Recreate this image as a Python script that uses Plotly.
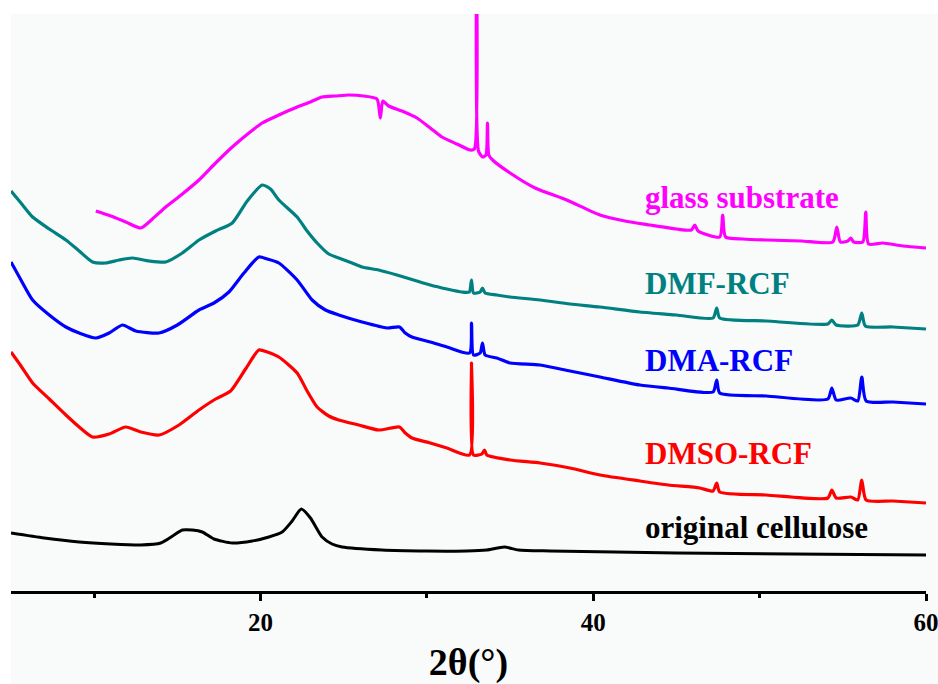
import plotly.graph_objects as go

# ---------------- data (2θ in degrees, intensity in a.u., curves offset) ----------------
glass_x = [10.1, 11.0, 11.9, 12.8, 13.5, 14.3, 15.3, 16.3, 17.3, 18.3, 19.3, 20.1, 21.1, 22.2, 23.0,
           23.7, 24.5, 25.3, 26.2, 27.0, 27.2, 27.35, 27.7, 28.5, 29.4, 30.2, 30.9, 31.8, 32.6, 32.85,
           32.98, 33.1, 33.35, 33.55, 33.64, 33.72, 33.95, 35.0, 36.5, 38.4, 40.4, 41.9, 43.4, 45.0,
           45.9, 46.1, 46.3, 47.6, 47.78, 47.95, 49.0, 50.4, 52.5, 54.4, 54.64, 54.85, 55.3, 55.48,
           55.65, 56.2, 56.38, 56.55, 57.4, 58.6, 60.0]
glass_y = [380, 375, 369, 363, 372, 384, 397, 411, 428, 444, 458, 468, 476, 484, 489,
           494, 495, 496, 495, 492, 473, 490, 485, 480, 473, 463, 454, 447, 441, 442,
           650, 440, 434, 436, 468, 436, 431, 418, 403, 391, 376, 370, 366, 362,
           361, 366, 360, 354, 376, 354, 352, 351, 350, 349, 364, 349, 350, 353,
           349, 349, 379, 347, 348, 345, 343]

dmf_x = [5.0, 5.6, 6.3, 7.3, 8.3, 9.1, 9.9, 10.7, 11.5, 12.3, 13.3, 14.3, 15.3, 16.3, 17.3, 18.3,
         19.2, 20.1, 20.6, 21.1, 22.2, 22.8, 23.4, 24.1, 24.7, 25.5, 26.1, 27.1, 28.2, 29.2, 30.2,
         31.2, 32.1, 32.55, 32.68, 32.8, 33.2, 33.34, 33.5, 34.2, 35.0, 36.8, 38.6, 40.4, 42.8,
         45.0, 47.2, 47.42, 47.6, 50.4, 54.1, 54.34, 54.6, 55.9, 56.14, 56.35, 58.0, 60.0]
dmf_y = [400, 388, 374, 362, 351, 340, 329, 328, 331, 333, 330, 329, 338, 351, 360, 368,
         390, 406, 402, 391, 374, 360, 348, 337, 333, 328, 324, 321, 316, 311, 306,
         302, 299, 299, 311, 298, 299, 303, 298, 296, 294, 291, 287, 284, 279,
         276, 273, 283, 273, 270, 267, 271, 266, 266, 278, 265, 264, 262]

dma_x = [5.0, 5.6, 6.3, 7.3, 8.3, 9.1, 10.1, 10.9, 11.7, 12.5, 13.9, 15.0, 16.3, 17.2, 18.1, 19.0,
         19.9, 20.4, 21.1, 22.2, 23.1, 23.9, 24.7, 26.1, 27.6, 28.35, 28.7, 29.1, 30.2, 31.2,
         32.56, 32.68, 32.8, 33.2, 33.34, 33.5, 34.2, 35.0, 36.8, 38.6, 40.4, 42.8, 44.5, 47.2,
         47.42, 47.6, 50.4, 54.1, 54.34, 54.6, 55.48, 55.9, 56.14, 56.4, 58.0, 60.0]
dma_y = [329, 311, 291, 276, 264, 258, 253, 258, 266, 260, 258, 266, 281, 288, 299, 318,
         334, 332, 328, 311, 291, 281, 276, 269, 263, 264, 258, 254, 249, 244,
         238, 268, 236, 238, 248, 236, 233, 228, 226, 220, 214, 206, 203, 199,
         211, 198, 195, 192, 203, 191, 193, 190, 214, 190, 189, 187]

dmso_x = [5.0, 5.6, 6.3, 7.3, 8.3, 9.1, 9.9, 10.9, 11.9, 12.8, 13.9, 15.1, 16.3, 17.3, 18.2, 19.1,
          19.9, 20.4, 21.1, 22.2, 22.8, 23.4, 24.1, 24.7, 25.9, 27.1, 28.35, 28.7, 29.1, 30.2,
          31.2, 32.56, 32.68, 32.8, 33.3, 33.46, 33.6, 35.0, 36.8, 38.6, 40.4, 42.8, 44.5, 46.4,
          47.2, 47.42, 47.6, 50.4, 54.1, 54.34, 54.6, 55.48, 55.9, 56.14, 56.4, 58.0, 60.0]
dmso_y = [239, 225, 208, 192, 176, 164, 154, 157, 164, 159, 156, 166, 181, 192, 200, 222,
          241, 239, 234, 218, 200, 184, 175, 171, 166, 161, 164, 158, 153, 148,
          143, 136, 228, 136, 137, 141, 136, 131, 128, 123, 116, 110, 106, 103,
          100, 108, 99, 96, 93, 101, 93, 94, 91, 111, 91, 90, 88]

cell_x = [5.0, 7.0, 9.1, 11.0, 12.8, 14.0, 14.8, 15.3, 15.9, 16.5, 17.2, 18.3, 19.5, 20.5, 21.3,
          21.9, 22.45, 23.0, 23.7, 24.3, 24.9, 27.3, 30.0, 32.4, 33.6, 34.66, 35.5, 37.4, 45.0,
          52.0, 60.0]
cell_y = [58, 53, 49, 47, 46, 48, 56, 61, 61, 59, 52, 48, 50, 54, 59,
          70, 82, 73, 54, 47, 44, 41, 40, 40, 41, 44, 41, 40, 38,
          37, 36]

series_names = ["glass substrate", "DMF-RCF", "DMA-RCF", "DMSO-RCF", "original cellulose"]
series_colors = ["#FF00FF", "#008080", "#0000FF", "#FF0000", "#000000"]
series_x = [glass_x, dmf_x, dma_x, dmso_x, cell_x]
series_y = [glass_y, dmf_y, dma_y, dmso_y, cell_y]
label_y = [394, 308, 231, 138, 64]
label_x = 43.0

x_ticks = [20, 40, 60]

SERIF = "Liberation Serif, Times New Roman, serif"

# ---------------- figure ----------------
fig = go.Figure()
for name, col, xs, ys in zip(series_names, series_colors, series_x, series_y):
    fig.add_trace(go.Scatter(x=xs, y=ys, mode="lines", name=name,
                             line=dict(color=col, width=3.2 if col != "#000000" else 3,
                                       shape="spline", smoothing=0.6),
                             showlegend=False))

for name, col, ly in zip(series_names, series_colors, label_y):
    fig.add_annotation(x=label_x, y=ly, text="<b>%s</b>" % name, showarrow=False,
                       xanchor="left", yanchor="middle",
                       font=dict(family=SERIF, size=31, color=col))

# white strips around the greyish image area
fig.add_shape(type="rect", xref="paper", yref="paper", x0=-0.05, x1=1.05, y0=1.0, y1=1.1,
              fillcolor="white", line_width=0, layer="below")
fig.add_shape(type="rect", xref="paper", yref="paper", x0=-0.05, x1=0.0, y0=-0.3, y1=1.1,
              fillcolor="white", line_width=0, layer="below")

fig.update_layout(
    width=938, height=684,
    margin=dict(l=11, r=12, t=14, b=93, autoexpand=False),
    paper_bgcolor="#F9FAFA", plot_bgcolor="#F9FAFA",
    font=dict(family=SERIF, color="black"),
    xaxis=dict(range=[5, 60], tickvals=x_ticks, ticktext=[str(t) for t in x_ticks],
               automargin=False, ticklabeloverflow="allow",
               showgrid=False, zeroline=False, showline=True, linecolor="black", linewidth=3,
               ticks="outside", ticklen=7, tickwidth=2.5, tickcolor="black",
               minor=dict(tickvals=[10, 30, 50], ticks="outside", ticklen=4, tickwidth=2.5,
                          tickcolor="black", showgrid=False),
               tickfont=dict(family=SERIF, size=25, color="black", weight="bold"),
               title=dict(text="<b>2θ(°)</b>", standoff=14,
                          font=dict(family=SERIF, size=38, color="black"))),
    yaxis=dict(range=[0, 577], visible=False, showgrid=False, zeroline=False, automargin=False),
)

fig.write_html("out.html")
